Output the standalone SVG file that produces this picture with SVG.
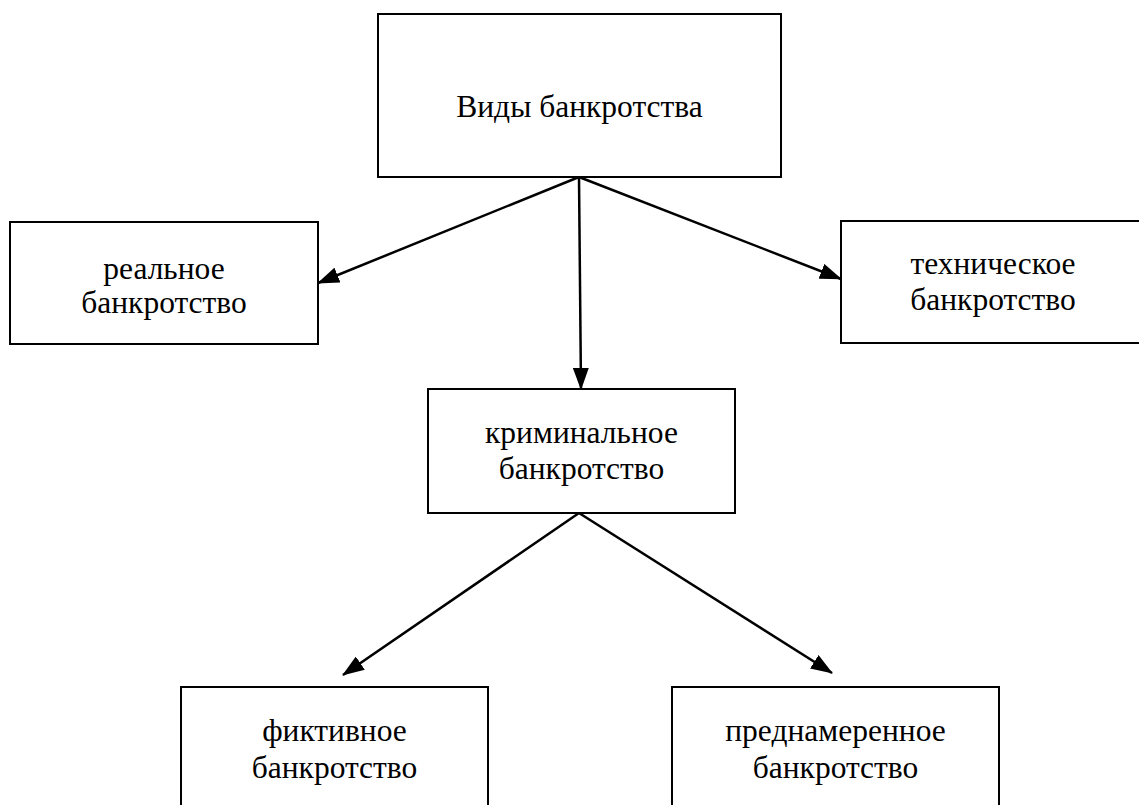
<svg xmlns="http://www.w3.org/2000/svg" width="1139" height="805" viewBox="0 0 1139 805">
<style>
.box{fill:#fff;stroke:#000;stroke-width:2}
.lbl{font-family:"Liberation Serif","Times New Roman",serif;font-size:31.5px;fill:#000;text-anchor:middle}
.edge{stroke:#000;stroke-width:2.5;fill:none;marker-end:url(#arr)}
</style>
<defs>
<marker id="arr" markerUnits="userSpaceOnUse" markerWidth="22" markerHeight="16" refX="21" refY="8" orient="auto">
<path d="M0,0 L22,8 L0,16 Z" fill="#000"/>
</marker>
</defs>
<rect width="1139" height="805" fill="#fff"/>
<g id="connectors">
<line class="edge" x1="579" y1="177" x2="318" y2="283"/>
<line class="edge" x1="579" y1="177" x2="841" y2="279"/>
<line class="edge" x1="579" y1="177" x2="581" y2="389"/>
<line class="edge" x1="579" y1="513" x2="343" y2="675"/>
<line class="edge" x1="579" y1="513" x2="832" y2="673"/>
</g>
<g id="n-vidy">
<rect class="box" x="378" y="14" width="403" height="163"/>
<text class="lbl" x="579.5" y="117">Виды банкротства</text>
</g>
<g id="n-realnoe">
<rect class="box" x="10" y="222" width="308" height="122"/>
<text class="lbl" x="164" y="279">реальное</text>
<text class="lbl" x="164" y="313">банкротство</text>
</g>
<g id="n-tehnicheskoe">
<rect class="box" x="841" y="221" width="300" height="122"/>
<text class="lbl" x="993" y="274">техническое</text>
<text class="lbl" x="993" y="310">банкротство</text>
</g>
<g id="n-kriminalnoe">
<rect class="box" x="428" y="389" width="307" height="124"/>
<text class="lbl" x="581.5" y="443">криминальное</text>
<text class="lbl" x="581.5" y="479">банкротство</text>
</g>
<g id="n-fiktivnoe">
<rect class="box" x="181" y="687" width="307" height="130"/>
<text class="lbl" x="334.5" y="741">фиктивное</text>
<text class="lbl" x="334.5" y="778">банкротство</text>
</g>
<g id="n-prednamerennoe">
<rect class="box" x="672" y="687" width="327" height="130"/>
<text class="lbl" x="835.5" y="741">преднамеренное</text>
<text class="lbl" x="835.5" y="778">банкротство</text>
</g>
</svg>
